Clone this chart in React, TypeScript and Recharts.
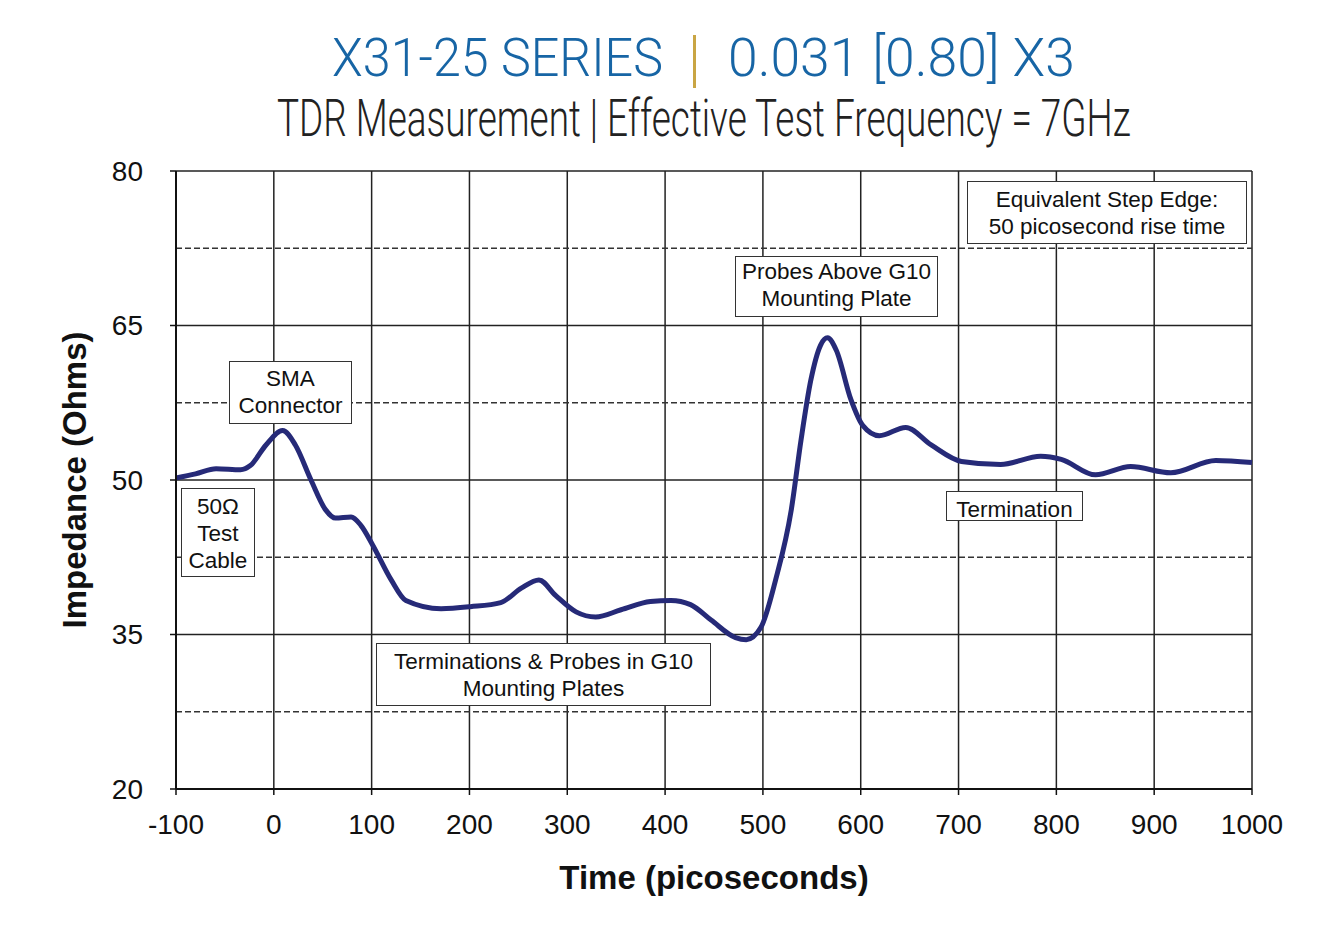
import React, { useLayoutEffect, useRef, useState } from 'react';
import { LineChart, Line, XAxis, YAxis, CartesianGrid, ReferenceLine } from 'recharts';

// TDR trace
const timePs = [
  -100, -80, -59, -34, -24, -8, 9, 22, 38, 53, 63, 79, 89, 101, 120, 135, 171, 201, 232, 253,
  271, 288, 309, 329, 355, 385, 406, 426, 447, 472, 483, 498, 513, 529, 539, 549, 559, 566,
  575, 590, 602, 619, 646, 672, 703, 743, 784, 805, 840, 876, 917, 963, 1000,
];
const impedanceOhms = [
  50.2, 50.6, 51.1, 51.0, 51.4, 53.4, 54.8, 53.4, 50.0, 47.1, 46.3, 46.4, 45.6, 43.7, 40.3, 38.3, 37.5, 37.7, 38.1, 39.5,
  40.3, 38.8, 37.2, 36.7, 37.4, 38.2, 38.3, 37.9, 36.4, 34.7, 34.5, 35.7, 40.3, 47.1, 53.9, 59.7, 63.1, 63.8,
  62.6, 57.8, 55.3, 54.3, 55.1, 53.4, 51.8, 51.5, 52.3, 52.0, 50.5, 51.3, 50.7, 51.9, 51.7,
];

const xTicks = [-100, 0, 100, 200, 300, 400, 500, 600, 700, 800, 900, 1000];
const yTicks = [20, 35, 50, 65, 80];
const dashedLevels = [27.5, 42.5, 57.5, 72.5];

const data = timePs.map((t, i) => ({ t, z: impedanceOhms[i] }));

const sans = 'Arial, "Liberation Sans", sans-serif';
const titleFont = 'Roboto, "Liberation Sans Narrow", "DejaVu Sans Condensed", sans-serif';

// squeezes a line of text horizontally to a given width (condensed look)
function FitText({ x, y, width, size, fill, weight = 300, children }: {
  x: number; y: number; width: number; size: number; fill: string; weight?: number; children: string;
}) {
  const ref = useRef<SVGTextElement>(null);
  const [sx, setSx] = useState(1);
  useLayoutEffect(() => {
    if (ref.current) {
      const w = ref.current.getComputedTextLength();
      if (w > 0) setSx(width / w);
    }
  }, [width, children]);
  return (
    <g transform={`translate(${x},${y}) scale(${sx},1)`}>
      <text ref={ref} x={0} y={0} fontSize={size} fill={fill} fontWeight={weight} fontFamily={titleFont}>
        {children}
      </text>
    </g>
  );
}

const boxStyle: React.CSSProperties = {
  position: 'absolute',
  background: '#fff',
  border: '1px solid #333',
  fontFamily: sans,
  fontSize: 22.5,
  lineHeight: '27px',
  color: '#111',
  textAlign: 'center',
  boxSizing: 'border-box',
  overflow: 'hidden',
  whiteSpace: 'nowrap',
};

const notes = [
  { text: ['SMA', 'Connector'], left: 229, top: 361, width: 123, height: 63, pad: 3 },
  { text: ['50Ω', 'Test', 'Cable'], left: 181, top: 488, width: 74, height: 89, pad: 4 },
  { text: ['Terminations & Probes in G10', 'Mounting Plates'], left: 376, top: 643, width: 335, height: 63, pad: 4 },
  { text: ['Probes Above G10', 'Mounting Plate'], left: 735, top: 256, width: 203, height: 61, pad: 1 },
  { text: ['Equivalent Step Edge:', '50 picosecond rise time'], left: 967, top: 181, width: 280, height: 63, pad: 4 },
  { text: ['Termination'], left: 946, top: 491, width: 137, height: 30, pad: 4 },
];

export default function App() {
  return (
    <div style={{ position: 'absolute', left: 0, top: 0, width: 1336, height: 943, background: '#fff' }}>
      <svg width={1336} height={150} style={{ position: 'absolute', left: 0, top: 0 }}>
        <FitText x={332} y={76} width={331} size={54} fill="#1765a5">X31-25 SERIES</FitText>
        <rect x={693} y={35} width={3} height={53} fill="#c9a544" />
        <FitText x={728} y={76} width={347} size={54} fill="#1765a5">0.031 [0.80] X3</FitText>
        <FitText x={277} y={136} width={854} size={52} fill="#222">
          TDR Measurement | Effective Test Frequency = 7GHz
        </FitText>
      </svg>
      <div style={{ position: 'absolute', left: 0, top: 0 }}>
        <LineChart
          width={1336}
          height={943}
          data={data}
          margin={{ top: 171, right: 84, left: 116, bottom: 94 }}
        >
          <CartesianGrid stroke="#222" strokeWidth={1.5} />
          {dashedLevels.map((v) => (
            <ReferenceLine key={v} y={v} stroke="#333" strokeWidth={1.5} strokeDasharray="6 3" />
          ))}
          <XAxis
            dataKey="t"
            type="number"
            domain={[-100, 1000]}
            ticks={xTicks}
            interval={0}
            height={60}
            axisLine={{ stroke: '#111', strokeWidth: 2 }}
            tickLine={{ stroke: '#111', strokeWidth: 1.5 }}
            tickSize={6}
            tickMargin={19}
            tick={{ fontSize: 28, fill: '#111', fontFamily: sans }}
            label={{
              value: 'Time (picoseconds)',
              position: 'insideBottom',
              offset: -40,
              style: { fontSize: 33, fontWeight: 'bold', fill: '#111', fontFamily: sans },
            }}
          />
          <YAxis
            type="number"
            domain={[20, 80]}
            ticks={yTicks}
            interval={0}
            width={60}
            axisLine={{ stroke: '#111', strokeWidth: 2 }}
            tickLine={{ stroke: '#111', strokeWidth: 1.5 }}
            tickSize={6}
            tickMargin={27}
            tick={{ fontSize: 28, fill: '#111', fontFamily: sans }}
            label={{
              value: 'Impedance (Ohms)',
              angle: -90,
              position: 'insideLeft',
              offset: -42,
              style: { textAnchor: 'middle', fontSize: 33, fontWeight: 'bold', fill: '#111', fontFamily: sans },
            }}
          />
          <Line
            type="monotone"
            dataKey="z"
            stroke="#262a78"
            strokeWidth={5}
            dot={false}
            isAnimationActive={false}
          />
        </LineChart>
      </div>
      {notes.map((n, i) => (
        <div
          key={i}
          style={{ ...boxStyle, left: n.left, top: n.top, width: n.width, height: n.height, paddingTop: n.pad }}
        >
          {n.text.map((l, j) => (
            <div key={j}>{l}</div>
          ))}
        </div>
      ))}
    </div>
  );
}
